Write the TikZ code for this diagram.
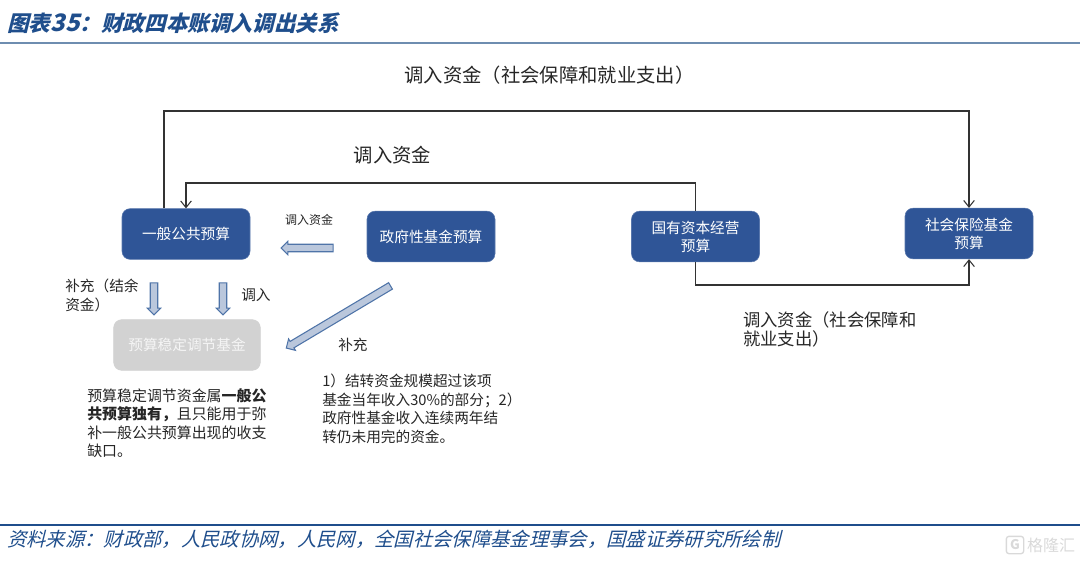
\documentclass[tikz,border=0pt]{standalone}
\usepackage{fontspec}
\setmainfont{Noto Sans CJK SC}
\newfontfamily\slantfont[FakeSlant = 0.25]{Noto Sans CJK SC}
\usetikzlibrary{
    arrows.meta,
    shapes.arrows
}
\definecolor{boxblue}{HTML}{2F5597}
\definecolor{boxgray}{HTML}{D2D2D2}
\definecolor{headblue}{HTML}{1F4E8C}
\definecolor{rulegray}{HTML}{6E8DB0}
\definecolor{arrowfill}{HTML}{BAC7DC}
\definecolor{arrowline}{HTML}{4F74A8}
\definecolor{markgray}{HTML}{D9D9D9}
\tikzset {
    budget/.style = {
        draw = boxblue!80, fill = boxblue, text = white, rounded corners = 6pt,
        minimum width = 96pt, minimum height = 38pt, inner sep = 0pt,
        align = center, font = \fontsize{11}{13.5}\selectfont
    },
    reserve/.style = {
        budget, draw = boxgray, fill = boxgray, text = white!92!gray,
        minimum width = 110pt
    },
    link/.style = {draw = black!80, line width = 0.8pt},
    linked/.style = {link, arrows = {-Straight Barb[length = 5pt, width = 8pt]}},
    hollow/.style = {
        single arrow, draw = arrowline, fill = arrowfill, line width = 0.8pt,
        inner sep = 2.4pt, single arrow head extend = 2.2pt,
        single arrow head indent = 0pt, anchor = center
    },
    bigtext/.style = {inner sep = 0pt, text = black!85, font = \fontsize{14.5}{17}\selectfont},
    midtext/.style = {
        inner sep = 0pt, anchor = north west, align = left, text = black!85,
        font = \fontsize{13}{14.3}\selectfont
    },
    smalltext/.style = {
        inner sep = 0pt, anchor = north west, align = left, text = black!85,
        font = \fontsize{11}{13.8}\selectfont
    },
    head/.style = {inner sep = 0pt, anchor = west, text = headblue}
}
\begin{document}
\begin{tikzpicture}[x = 0.75pt, y = -0.75pt]
    \useasboundingbox (0, 0) rectangle (1080, 562);
    \node (title) [head, font = \fontsize{16.2}{18}\selectfont\slantfont\bfseries] at (7, 23) {图表{\fontsize{18}{18}\selectfont 35}：财政四本账调入调出关系};
    \draw [rulegray, line width = 1pt] (0, 43) -- (1080, 43);
    \draw [headblue, line width = 1.6pt] (0, 525) -- (1080, 525);
    \node (source) [head, font = \fontsize{14.5}{17}\selectfont\slantfont] at (7, 539) {资料来源：财政部，人民政协网，人民网，全国社会保障基金理事会，国盛证券研究所绘制};
    %
    \node (general) [budget] at (186, 234) {一般公共预算};
    \node (fund) [budget] at (431, 236.5) {政府性基金预算};
    \node (state) [budget] at (695.5, 236.5) {国有资本经营\\预算};
    \node (social) [budget] at (969, 233.5) {社会保险基金\\预算};
    \node (stable) [reserve] at (187, 345) {预算稳定调节基金};
    %
    \coordinate (topl) at (164, 111);
    \coordinate (topr) at (969, 111);
    \coordinate (mid) at (0, 183);
    \coordinate (low) at (0, 285);
    \draw [linked] (topl |- general.north) -- (topl) -- (topr) -- (social.north);
    \draw [linked] (state.north) |- (general.north |- mid) -- (general.north);
    \draw [linked] (state.south) |- (social.south |- low) -- (social.south);
    %
    \node (left) [hollow, minimum height = 39pt, rotate = 180] at (309, 248) {};
    \node (downa) [hollow, minimum height = 24pt, rotate = 270] at (154, 297) {};
    \node (downb) [hollow, minimum height = 24pt, rotate = 270] at (223, 297) {};
    \node (diag) [hollow, minimum height = 91pt, rotate = 210.8] at (340, 316) {};
    %
    \node (lbtop) [bigtext] at (549.5, 75) {调入资金（社会保障和就业支出）};
    \node (lbmid) [bigtext] at (392.5, 155) {调入资金};
    \node (lbleft) [inner sep = 0pt, text = black!85, font = \fontsize{9}{11}\selectfont] at (309, 220) {调入资金};
    \node (lbsoc) [midtext] at (743, 311) {调入资金（社会保障和\\就业支出）};
    \node (lbrest) [smalltext] at (65, 279) {补充（结余\\资金）};
    \node (lbin) [smalltext] at (241, 288) {调入};
    \node (lbadd) [smalltext] at (338, 338) {补充};
    \node (notea) [smalltext, font = \fontsize{11.2}{13.9}\selectfont] at (87, 388) {预算稳定调节资金属\textbf{一般公}\\\textbf{共预算独有，}且只能用于弥\\补一般公共预算出现的收支\\缺口。};
    \node (noteb) [smalltext, font = \fontsize{11}{13.9}\selectfont] at (322, 374) {1）结转资金规模超过该项\\基金当年收入30\%的部分；2）\\政府性基金收入连续两年结\\转仍未用完的资金。};
    %
    \node (logo) [draw = markgray, line width = 1pt, rounded corners = 2pt, minimum size = 13pt, inner sep = 0pt, text = markgray, font = \fontsize{10}{10}\selectfont\bfseries] at (1015, 545) {G};
    \node (mark) [inner sep = 0pt, text = markgray, font = \fontsize{12}{14}\selectfont] at (1051, 545) {格隆汇};
\end{tikzpicture}
\end{document}
